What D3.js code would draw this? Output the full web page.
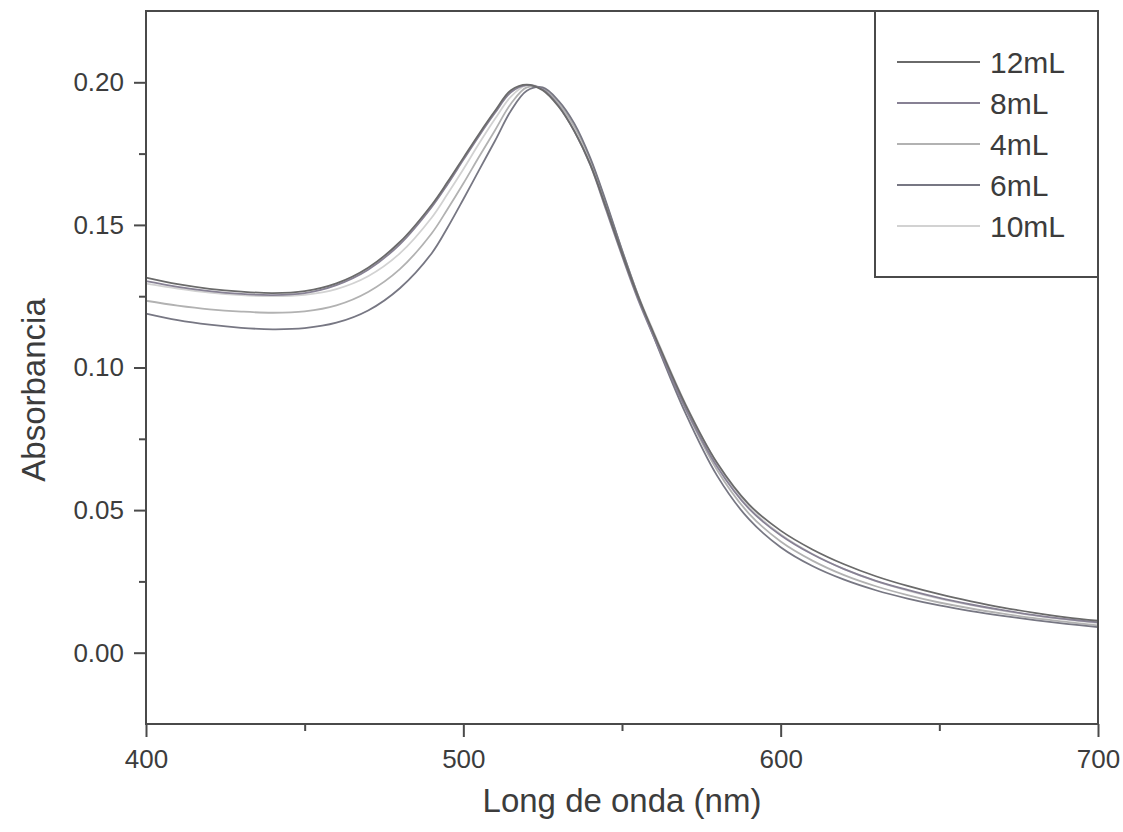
<!DOCTYPE html>
<html>
<head>
<meta charset="utf-8">
<script src="https://cdn.jsdelivr.net/npm/d3@7"></script>
<style>
  html, body { margin: 0; padding: 0; background: #ffffff; }
  svg { display: block; }
  text { font-family: "Liberation Sans", Arial, sans-serif; fill: #3c3c3c; }
</style>
</head>
<body>
<svg id="chart" width="1123" height="832"></svg>
<script>
// Wavelengths (nm) at which the absorbance spectra are sampled
const wavelengths = [400, 410, 420, 430, 440, 450, 460, 470, 480, 490,
  495, 500, 505, 510, 515, 520, 525, 530, 535, 540, 545, 550, 555,
  560, 570, 580, 590, 600, 610, 620, 630, 640, 650, 660, 670, 680, 690, 700];

// Absorbance of each sample volume
const abs12mL = [.1315, .1292, .1276, .1266, .1261, .1268, .1295, .1350, .1440, .1570,
  .1650, .1735, .1820, .1900, .1972, .1992, .1972, .1915, .1828, .1712, .1560, .1400, .1250,
  .1120, .0870, .0665, .0520, .0428, .0362, .0310, .0268, .0234, .0205, .0180, .0158, .0140, .0124, .0112];
const abs8mL = [.1303, .1283, .1268, .1258, .1254, .1261, .1289, .1343, .1432, .1562,
  .1642, .1728, .1813, .1893, .1965, .1990, .1975, .1918, .1828, .1710, .1552, .1392, .1240,
  .1108, .0858, .0652, .0505, .0412, .0345, .0293, .0252, .0220, .0192, .0169, .0149, .0132, .0118, .0106];
const abs4mL = [.1234, .1217, .1204, .1196, .1192, .1197, .1218, .1265, .1345, .1470,
  .1555, .1645, .1740, .1832, .1925, .1982, .1978, .1925, .1845, .1730, .1575, .1412, .1256,
  .1116, .0855, .0640, .0488, .0390, .0323, .0272, .0233, .0202, .0176, .0155, .0137, .0121, .0108, .0096];
const abs6mL = [.1189, .1166, .1150, .1139, .1134, .1138, .1157, .1200, .1278, .1400,
  .1490, .1590, .1693, .1795, .1900, .1970, .1982, .1935, .1855, .1735, .1580, .1412, .1253,
  .1108, .0840, .0620, .0468, .0370, .0304, .0256, .0219, .0190, .0166, .0146, .0129, .0114, .0101, .0090];
const abs10mL = [.1294, .1277, .1263, .1254, .1250, .1255, .1275, .1320, .1400, .1525,
  .1608, .1695, .1786, .1872, .1950, .1990, .1978, .1925, .1840, .1720, .1563, .1404, .1256,
  .1125, .0873, .0662, .0512, .0415, .0346, .0293, .0251, .0218, .0190, .0167, .0147, .0130, .0116, .0104];

// Legend order and labels
const seriesNames = ["12mL", "8mL", "4mL", "6mL", "10mL"];
const seriesValues = [abs12mL, abs8mL, abs4mL, abs6mL, abs10mL];
const seriesColors = ["#6a6a6a", "#878194", "#b2b2b2", "#777783", "#d2d2d2"];

// Axis ticks
const xTicks = [400, 500, 600, 700];
const xMinorTicks = [450, 550, 650];
const yTicks = [0.00, 0.05, 0.10, 0.15, 0.20];
const yMinorTicks = [0.025, 0.075, 0.125, 0.175];

const svg = d3.select("#chart");
const plot = { left: 146, right: 1098, top: 11, bottom: 724 };

const x = d3.scaleLinear().domain([400, 700]).range([plot.left, plot.right]);
const y = d3.scaleLinear().domain([-0.025, 0.225]).range([plot.bottom, plot.top]);

const axisColor = "#4a4a4a";

// Spectra (lightest first so the darker traces sit on top)
const line = d3.line()
  .x((d, i) => x(wavelengths[i]))
  .y(d => y(d))
  .curve(d3.curveCatmullRom.alpha(0.5));

const drawOrder = [4, 2, 3, 1, 0];
const spectra = svg.append("g");
drawOrder.forEach(k => {
  spectra.append("path")
    .datum(seriesValues[k])
    .attr("fill", "none")
    .attr("stroke", seriesColors[k])
    .attr("stroke-width", 1.8)
    .attr("d", line);
});

// Bottom axis
const xAxis = svg.append("g")
  .attr("transform", `translate(0,${plot.bottom})`)
  .call(d3.axisBottom(x).tickValues(xTicks).tickSize(13).tickSizeOuter(0).tickPadding(13)
    .tickFormat(d3.format("d")));
xAxis.selectAll("text").attr("font-size", 26).style("fill", "#3c3c3c");
svg.append("g")
  .attr("transform", `translate(0,${plot.bottom})`)
  .call(d3.axisBottom(x).tickValues(xMinorTicks).tickSize(7).tickSizeOuter(0).tickFormat(""));

// Left axis
const yAxis = svg.append("g")
  .attr("transform", `translate(${plot.left},0)`)
  .call(d3.axisLeft(y).tickValues(yTicks).tickSize(12).tickSizeOuter(0).tickPadding(10)
    .tickFormat(d3.format(".2f")));
yAxis.selectAll("text").attr("font-size", 26).style("fill", "#3c3c3c");
svg.append("g")
  .attr("transform", `translate(${plot.left},0)`)
  .call(d3.axisLeft(y).tickValues(yMinorTicks).tickSize(7).tickSizeOuter(0).tickFormat(""));

svg.selectAll(".tick line").attr("stroke", axisColor).attr("stroke-width", 2);
svg.selectAll(".domain").remove();

// Frame around the plotting area
svg.append("rect")
  .attr("x", plot.left).attr("y", plot.top)
  .attr("width", plot.right - plot.left).attr("height", plot.bottom - plot.top)
  .attr("fill", "none").attr("stroke", axisColor).attr("stroke-width", 2);

// Axis titles
svg.append("text")
  .attr("x", (plot.left + plot.right) / 2)
  .attr("y", 812)
  .attr("text-anchor", "middle")
  .attr("font-size", 33)
  .text("Long de onda (nm)");

svg.append("text")
  .attr("transform", `translate(45,390) rotate(-90)`)
  .attr("text-anchor", "middle")
  .attr("font-size", 33)
  .text("Absorbancia");

// Legend
const legend = svg.append("g");
legend.append("rect")
  .attr("x", 875).attr("y", plot.top)
  .attr("width", plot.right - 875).attr("height", 277 - plot.top)
  .attr("fill", "#ffffff").attr("stroke", axisColor).attr("stroke-width", 2);

seriesNames.forEach((name, i) => {
  const yy = 62 + i * 41;
  legend.append("line")
    .attr("x1", 897).attr("x2", 980)
    .attr("y1", yy).attr("y2", yy)
    .attr("stroke", seriesColors[i]).attr("stroke-width", 2);
  legend.append("text")
    .attr("x", 990).attr("y", yy + 11)
    .attr("font-size", 30)
    .text(name);
});
</script>
</body>
</html>
